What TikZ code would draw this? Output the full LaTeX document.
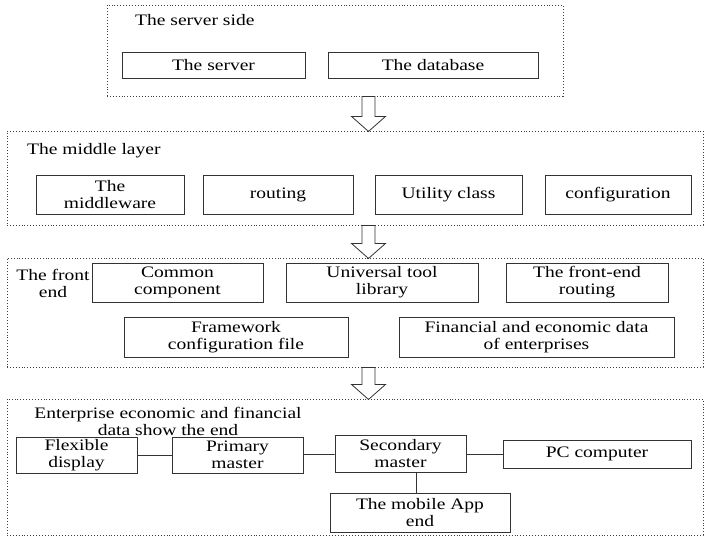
\documentclass[tikz,border=0pt]{standalone}
\usepackage{fontspec}
\setmainfont[FakeStretch=1.22]{Liberation Serif}
\usetikzlibrary{positioning}
\tikzset{box node/.style={rectangle,draw=black!80,line width=0.8pt,align=center,inner sep=0pt,font=\fontsize{16}{17}\selectfont} }
\tikzset{layer node/.style={rectangle,draw=black!75,dotted,line width=0.9pt,inner sep=0pt} }
\tikzset{label node/.style={align=center,inner sep=0pt,font=\fontsize{16}{17}\selectfont} }
\tikzset{block arrow/.style={draw=black!80,line width=0.8pt,fill=white} }

\begin{document}
\begin{tikzpicture}[x=1pt,y=-1pt]
  \useasboundingbox (0,0) rectangle (704,536);

  % the four layers
  \node[layer node,minimum width=456,minimum height=91] (serverside) at (335,50.5) {};
  \node[layer node,minimum width=696,minimum height=94] (middle) at (355,178) {};
  \node[layer node,minimum width=696,minimum height=109] (frontend) at (355,312.5) {};
  \node[layer node,minimum width=696,minimum height=136] (showend) at (355,467) {};

  \node[label node,anchor=west] (serverlabel) at (135,20) {The server side};
  \node[label node,anchor=west] (middlelabel) at (27,151) {The middle layer};
  \node[label node] (frontlabel) at (53,283) {The front\\end};
  \node[label node] (showlabel) at (168,421) {Enterprise economic and financial\\data show the end};

  % server side
  \node[box node,minimum width=183,minimum height=26] (server) at (213.5,65) {The server};
  \node[box node,minimum width=210,minimum height=26] (database) at (433,65) {The database};

  % middle layer
  \node[box node,minimum width=148,minimum height=39] (middleware) at (110,194.5) {The\\middleware};
  \node[box node,minimum width=150,minimum height=39] (routing) at (278,194.5) {routing};
  \node[box node,minimum width=147,minimum height=39] (utility) at (448.5,194.5) {Utility class};
  \node[box node,minimum width=146,minimum height=39] (config) at (618,194.5) {configuration};

  % front end
  \node[box node,minimum width=171,minimum height=39] (common) at (177.5,282.5) {Common\\component};
  \node[box node,minimum width=192,minimum height=39] (toollib) at (382,282.5) {Universal tool\\library};
  \node[box node,minimum width=162,minimum height=39] (frouting) at (587,282.5) {The front-end\\routing};
  \node[box node,minimum width=224,minimum height=40] (framework) at (236,337) {Framework\\configuration file};
  \node[box node,minimum width=275,minimum height=40] (findata) at (536.5,337) {Financial and economic data\\of enterprises};

  % show end
  \node[box node,minimum width=121,minimum height=36] (flexible) at (76.5,455) {Flexible\\display};
  \node[box node,minimum width=131,minimum height=36] (primary) at (237.5,455) {Primary\\master};
  \node[box node,minimum width=131,minimum height=37] (secondary) at (400.5,454) {Secondary\\master};
  \node[box node,minimum width=188,minimum height=28] (pc) at (597,454) {PC computer};
  \node[box node,minimum width=180,minimum height=39] (mobile) at (420,512.5) {The mobile App\\end};

  \path[draw=black!80,line width=0.8pt]
    (flexible) edge (primary)
    (primary) edge (secondary)
    (secondary) edge (pc)
    ([xshift=-4]mobile.north) edge ([xshift=-4]mobile.north |- secondary.south)
    ;

  % arrows between the layers
  \draw[block arrow] (368.5,0 |- serverside.south) ++(-6.5,0) -- ++(0,20) -- ++(-10.5,0) -- ++(17,15) -- ++(17,-15) -- ++(-10.5,0) -- ++(0,-20) -- cycle;
  \draw[block arrow] (368.5,0 |- middle.south) ++(-6.5,0) -- ++(0,18) -- ++(-10.5,0) -- ++(17,15) -- ++(17,-15) -- ++(-10.5,0) -- ++(0,-18) -- cycle;
  \draw[block arrow] (368.5,0 |- frontend.south) ++(-6.5,0) -- ++(0,17) -- ++(-10.5,0) -- ++(17,15) -- ++(17,-15) -- ++(-10.5,0) -- ++(0,-17) -- cycle;
\end{tikzpicture}
\end{document}
